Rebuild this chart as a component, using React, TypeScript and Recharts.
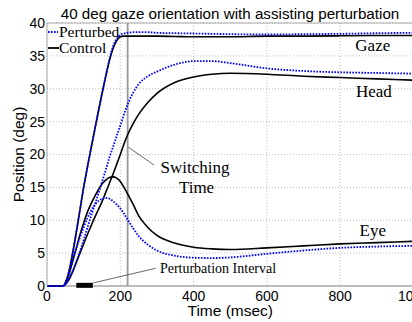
import React from "react";
import {
  LineChart,
  Line,
  XAxis,
  YAxis,
  CartesianGrid,
  ReferenceLine,
  ReferenceDot,
  Legend,
  Label,
} from "recharts";

// time axis (msec)
const time = [0, 44, 50, 60, 70, 80, 90, 100, 110, 120, 130, 140, 150, 160, 170, 180, 190, 200, 210, 220, 235, 250, 275, 300, 350, 400, 450, 500, 600, 700, 800, 900, 1000];

// positions (deg)
const gazeCtrl = [0, 0, 0.5, 2.2, 5.0, 8.2, 11.6, 15.0, 18.0, 20.9, 23.7, 26.5, 29.2, 31.8, 34.2, 36.1, 37.3, 37.9, 38.0, 38.0, 38.0, 38.0, 38.0, 38.0, 37.95, 37.9, 37.9, 37.9, 38.0, 38.0, 38.05, 38.1, 38.1];
const gazePert = [0, 0, 0.5, 2.2, 5.0, 8.2, 11.6, 15.0, 18.0, 20.9, 23.7, 26.5, 29.3, 31.9, 34.4, 36.4, 37.6, 38.2, 38.4, 38.5, 38.6, 38.6, 38.6, 38.5, 38.45, 38.4, 38.35, 38.3, 38.25, 38.3, 38.35, 38.45, 38.5];
const headCtrl = [0, 0, 0.25, 1.0, 2.2, 3.6, 5.0, 6.4, 7.8, 9.1, 10.4, 11.6, 12.8, 14.2, 15.6, 17.0, 18.5, 20.0, 21.6, 23.0, 24.7, 26.1, 27.9, 29.3, 31.0, 31.8, 32.2, 32.35, 32.2, 31.9, 31.7, 31.5, 31.3];
const headPert = [0, 0, 0.25, 1.0, 2.2, 3.7, 5.3, 7.0, 8.8, 10.6, 12.3, 14.0, 15.8, 17.6, 19.5, 21.1, 22.8, 24.4, 26.1, 27.6, 29.4, 30.7, 31.9, 32.6, 33.7, 34.2, 34.2, 33.9, 33.1, 32.7, 32.5, 32.4, 32.3];
const eyeCtrl = [0, 0, 0.4, 1.8, 3.8, 5.8, 7.8, 9.6, 11.2, 12.5, 13.6, 14.6, 15.5, 16.1, 16.5, 16.6, 16.4, 15.9, 15.0, 14.0, 12.4, 10.7, 8.9, 7.7, 6.5, 5.9, 5.65, 5.55, 5.8, 6.1, 6.4, 6.6, 6.8];
const eyePert = [0, 0, 0.4, 1.8, 3.8, 5.7, 7.4, 8.9, 10.3, 11.4, 12.3, 12.9, 13.25, 13.4, 13.3, 12.9, 12.4, 11.8, 11.0, 10.1, 8.8, 7.6, 6.3, 5.4, 4.6, 4.3, 4.25, 4.35, 4.9, 5.4, 5.8, 6.0, 6.1];

const xTicks = [0, 200, 400, 600, 800, 1000];
const yTicks = [0, 5, 10, 15, 20, 25, 30, 35, 40];

const switchTime = 220;
const perturbation = [80, 125];

const notes = [
  { x: 889, y: 36.6, text: "Gaze", size: 17, anchor: "middle" },
  { x: 892, y: 29.6, text: "Head", size: 17, anchor: "middle" },
  { x: 889, y: 8.5, text: "Eye", size: 17, anchor: "middle" },
  { x: 404, y: 18.1, text: "Switching", size: 17, anchor: "middle" },
  { x: 408, y: 15.1, text: "Time", size: 17, anchor: "middle" },
  { x: 308, y: 2.75, text: "Perturbation Interval", size: 14, anchor: "start" },
];

const rows = time.map((t, i) => ({
  t,
  gazeCtrl: gazeCtrl[i],
  gazePert: gazePert[i],
  headCtrl: headCtrl[i],
  headPert: headPert[i],
  eyeCtrl: eyeCtrl[i],
  eyePert: eyePert[i],
}));

const SANS = '"Liberation Sans", Arial, sans-serif';
const SERIF = '"Liberation Serif", "Times New Roman", serif';
const BLUE = "#0000ff";
const DOTS = "1.6 1.4";

function LegendBox() {
  const row = { display: "flex", alignItems: "center", height: 16 };
  return (
    <div style={{ fontFamily: SERIF, fontSize: 15.5, lineHeight: "16px", color: "#000" }}>
      <div style={row}>
        <svg width={12} height={16}>
          <line x1={1} x2={11} y1={8} y2={8} stroke={BLUE} strokeWidth={1.8} strokeDasharray={DOTS} />
        </svg>
        <span>Perturbed</span>
      </div>
      <div style={row}>
        <svg width={12} height={16}>
          <line x1={1} x2={12} y1={8} y2={8} stroke="#000" strokeWidth={1.8} />
        </svg>
        <span>Control</span>
      </div>
    </div>
  );
}

export default function App() {
  return (
    <div style={{ position: "absolute", left: 0, top: 0, width: 412, height: 322, overflow: "hidden", background: "#fff" }}>
      <svg width={412} height={24} style={{ position: "absolute", left: 0, top: 0 }}>
        <text x={230} y={19} textAnchor="middle" fontFamily={SANS} fontSize={15.2} fill="#000">
          40 deg gaze orientation with assisting perturbation
        </text>
      </svg>
      <LineChart
        width={440}
        height={322}
        data={rows}
        margin={{ top: 23, left: 7, right: 26.5, bottom: 6 }}
      >
        <CartesianGrid stroke="#bdbdbd" strokeDasharray="1 2" />
        <XAxis
          dataKey="t"
          type="number"
          domain={[0, 1000]}
          ticks={xTicks}
          height={30}
          tickSize={0}
          tickMargin={5}
          axisLine={false}
          tick={{ fill: "#000", fontSize: 14, fontFamily: SANS }}
        >
          <Label
            content={({ viewBox }: any) => (
              <text x={viewBox.x + viewBox.width / 2} y={viewBox.y + 30} textAnchor="middle" fontFamily={SANS} fontSize={15.5} fill="#000">
                Time (msec)
              </text>
            )}
          />
        </XAxis>
        <YAxis
          type="number"
          domain={[0, 40]}
          ticks={yTicks}
          width={40}
          tickSize={0}
          tickMargin={2}
          stroke="#aaa"
          tick={{ fill: "#000", fontSize: 14, fontFamily: SANS }}
        >
          <Label
            content={({ viewBox }: any) => {
              const cy = viewBox.y + viewBox.height / 2;
              return (
                <text x={24} y={cy} transform={`rotate(-90 24 ${cy})`} textAnchor="middle" fontFamily={SANS} fontSize={15.5} fill="#000">
                  Position (deg)
                </text>
              );
            }}
          />
        </YAxis>
        <ReferenceLine y={40} stroke="#aaa" />
        <ReferenceLine y={0} stroke="#aaa" strokeWidth={1.5} />
        <ReferenceLine x={switchTime} stroke="#999" strokeWidth={1.8} />
        <ReferenceLine segment={[{ x: 222, y: 21.1 }, { x: 292, y: 18.4 }]} stroke="#444" strokeWidth={0.8} />
        <ReferenceLine segment={[{ x: 125, y: 0.45 }, { x: 297, y: 2.7 }]} stroke="#444" strokeWidth={0.8} />
        <ReferenceLine
          segment={[{ x: perturbation[0], y: 0.1 }, { x: perturbation[1], y: 0.1 }]}
          stroke="#000"
          strokeWidth={5}
          ifOverflow="visible"
        />
        <Legend
          layout="vertical"
          align="center"
          verticalAlign="middle"
          content={() => <LegendBox />}
          wrapperStyle={{ left: 47, top: 24, width: "auto" }}
        />
        <Line dataKey="gazeCtrl" type="monotone" stroke="#000" strokeWidth={1.6} dot={false} isAnimationActive={false} legendType="none" />
        <Line dataKey="headCtrl" type="monotone" stroke="#000" strokeWidth={1.6} dot={false} isAnimationActive={false} legendType="none" />
        <Line dataKey="eyeCtrl" type="monotone" stroke="#000" strokeWidth={1.6} dot={false} isAnimationActive={false} legendType="none" />
        <Line dataKey="gazePert" type="monotone" stroke={BLUE} strokeWidth={1.8} strokeDasharray={DOTS} dot={false} isAnimationActive={false} legendType="none" />
        <Line dataKey="headPert" type="monotone" stroke={BLUE} strokeWidth={1.8} strokeDasharray={DOTS} dot={false} isAnimationActive={false} legendType="none" />
        <Line dataKey="eyePert" type="monotone" stroke={BLUE} strokeWidth={1.8} strokeDasharray={DOTS} dot={false} isAnimationActive={false} legendType="none" />
        {notes.map((n) => (
          <ReferenceDot
            key={n.text}
            x={n.x}
            y={n.y}
            r={0}
            shape={(p: any) => (
              <text x={p.cx} y={p.cy} dy="0.35em" textAnchor={n.anchor} fontFamily={SERIF} fontSize={n.size} fill="#000">
                {n.text}
              </text>
            )}
          />
        ))}
      </LineChart>
    </div>
  );
}
